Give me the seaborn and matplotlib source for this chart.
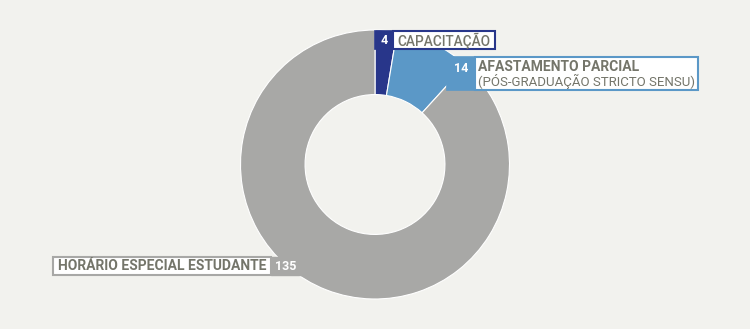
import matplotlib
matplotlib.use("Agg")
import matplotlib.pyplot as plt
from matplotlib.patches import Rectangle
import seaborn as sns

categories = ["CAPACITAÇÃO", "AFASTAMENTO PARCIAL\n(PÓS-GRADUAÇÃO STRICTO SENSU)", "HORÁRIO ESPECIAL ESTUDANTE"]
values = [4, 14, 135]
colors = ["#28368a", "#5b98c7", "#a8a8a6"]

BG = "#f2f2ee"
TXT = "#74756a"

sns.set_theme(style="white")
plt.rcParams["font.family"] = ["Roboto", "DejaVu Sans"]

W, H = 750, 329
fig = plt.figure(figsize=(7.5, 3.29), dpi=100, facecolor=BG)
ax = fig.add_axes([0, 0, 1, 1])
ax.set_facecolor(BG)

cx, cy, R = 375, H - 164.5, 134.5
ax.pie(values, colors=colors, startangle=90, counterclock=False,
       center=(cx, cy), radius=R,
       wedgeprops=dict(width=R * 0.48, edgecolor="white", linewidth=0.8))
ax.set_xlim(0, W)
ax.set_ylim(0, H)
ax.set_aspect("equal")
ax.axis("off")

def py(y):
    return H - y

def label(x0, x1, x2, y0, y1, color):
    ax.add_patch(Rectangle((x0, py(y1)), x1 - x0, y1 - y0, facecolor=color, edgecolor=color, lw=1.2, zorder=5))
    ax.add_patch(Rectangle((x1, py(y1)), x2 - x1, y1 - y0, facecolor="white", edgecolor=color, lw=1.5, zorder=5))

# CAPACITAÇÃO
label(375, 393, 495, 31, 49, colors[0])
ax.text(384, py(41), str(values[0]), color="white", fontsize=9, fontweight="bold", ha="center", va="center", zorder=6)
ax.text(397, py(41), categories[0], color=TXT, fontsize=9.8, fontweight="medium", ha="left", va="center", zorder=6)

# AFASTAMENTO
label(447, 475, 698, 57, 90, colors[1])
ax.text(461, py(68), str(values[1]), color="white", fontsize=9, fontweight="bold", ha="center", va="center", zorder=6)
l1, l2 = categories[1].split("\n")
ax.text(478, py(67), l1, color=TXT, fontsize=10, fontweight="bold", ha="left", va="center", zorder=6)
ax.text(478, py(81), l2, color=TXT, fontsize=9.5, ha="left", va="center", zorder=6)

# HORÁRIO
ax.add_patch(Rectangle((53, py(275)), 271 - 53, 18, facecolor="white", edgecolor=colors[2], lw=1.5, zorder=5))
ax.add_patch(Rectangle((271, py(275)), 30, 18, facecolor=colors[2], edgecolor=colors[2], lw=1.0, zorder=5))
ax.text(286, py(266), str(values[2]), color="white", fontsize=9, fontweight="bold", ha="center", va="center", zorder=6)
ax.text(58, py(266), categories[2], color=TXT, fontsize=10, fontweight="bold", ha="left", va="center", zorder=6)

fig.savefig("out.png", dpi=100, facecolor=BG)
